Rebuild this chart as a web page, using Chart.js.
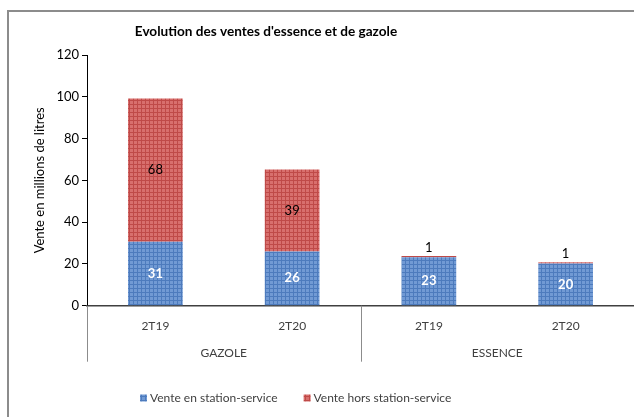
<!DOCTYPE html>
<html>
<head>
<meta charset="utf-8">
<script src="https://cdn.jsdelivr.net/npm/chart.js@4.4.0/dist/chart.umd.min.js"></script>
<style>
  body { margin: 0; background: #fff; }
  #cadre {
    position: absolute; left: 7px; top: 10px;
    width: 627px; height: 407px;
    border-top: 2px solid #8c8c8c; border-left: 2px solid #8c8c8c;
  }
  #cadre canvas { display: block; }
</style>
</head>
<body>
<div id="cadre"><canvas id="ventesGrafica" width="625" height="405"></canvas></div>
<script>
// Données (millions de litres)
const trimestres = ['2T19', '2T20', '2T19', '2T20']
const carburants = ['GAZOLE', 'ESSENCE']
const enStation = [30.6, 26.0, 23.2, 20.2]
const horsStation = [68.6, 39.2, 0.6, 0.6]
const etiquettesStation = ['31', '26', '23', '20']
const etiquettesHors = ['68', '39', '1', '1']
const ticksY = [0, 20, 40, 60, 80, 100, 120]
const titre = "Evolution des ventes d'essence et de gazole"

const police = 'Lato, "Open Sans", sans-serif'

// Motif quadrillé comme dans Excel
function motif(fond, trait){
    let c = document.createElement('canvas')
    c.width = 4; c.height = 4
    let g = c.getContext('2d')
    g.fillStyle = fond
    g.fillRect(0, 0, 4, 4)
    g.fillStyle = trait
    g.fillRect(0, 0, 4, 1)
    g.fillRect(0, 0, 1, 4)
    return g.createPattern(c, 'repeat')
}
const bleu = motif('#719ad4', '#4d7bbd')
const rouge = motif('#d86f6d', '#bf4a48')

// Titre, étiquettes de valeurs, axe à deux niveaux et légende
const pluginEtiquettes = {
    id: 'etiquettes',
    afterDatasetsDraw(chart){
        const ctx = chart.ctx
        ctx.save()
        ctx.textAlign = 'center'
        ctx.textBaseline = 'middle'
        const m0 = chart.getDatasetMeta(0)
        const m1 = chart.getDatasetMeta(1)
        m0.data.forEach((bar, i) => {
            ctx.font = 'bold 13px ' + police
            ctx.fillStyle = '#ffffff'
            ctx.fillText(etiquettesStation[i], bar.x, (bar.y + bar.base) / 2)
        })
        m1.data.forEach((bar, i) => {
            ctx.font = '13px ' + police
            ctx.fillStyle = '#000000'
            let h = bar.base - bar.y
            let y = h > 16 ? (bar.y + bar.base) / 2 : bar.y - 8
            ctx.fillText(etiquettesHors[i], bar.x, y)
        })
        ctx.restore()
    },
    afterDraw(chart){
        const ctx = chart.ctx
        const x = chart.scales.x
        const bas = chart.chartArea.bottom
        const pas = x.getPixelForValue(1) - x.getPixelForValue(0)
        ctx.save()

        // titre
        ctx.font = 'bold 13.6px ' + police
        ctx.fillStyle = '#000000'
        ctx.textAlign = 'center'
        ctx.textBaseline = 'middle'
        ctx.fillText(titre, 257, 20)

        // second niveau de l'axe des abscisses
        ctx.strokeStyle = '#8c8c8c'
        ctx.lineWidth = 1
        ctx.font = '12px ' + police
        ctx.fillStyle = '#404040'
        carburants.forEach((nom, k) => {
            let g = x.getPixelForValue(k * 2) - pas / 2
            let d = x.getPixelForValue(k * 2 + 1) + pas / 2
            ctx.beginPath()
            ctx.moveTo(Math.round(g) + 0.5, bas)
            ctx.lineTo(Math.round(g) + 0.5, bas + 56)
            ctx.stroke()
            ctx.fillText(nom, (g + d) / 2, bas + 47.5)
        })

        // légende
        ctx.font = '12px ' + police
        ctx.textAlign = 'left'
        let lx = 131
        const ly = 386
        chart.data.datasets.forEach(ds => {
            ctx.fillStyle = ds.backgroundColor
            ctx.fillRect(lx, ly - 3.5, 7, 7)
            ctx.fillStyle = '#404040'
            ctx.fillText(ds.label, lx + 10, ly)
            lx += 10 + ctx.measureText(ds.label).width + 26
        })
        ctx.restore()
    }
}

let ctx = document.getElementById('ventesGrafica')
const config = {
    type: 'bar',
    data: {
        labels: trimestres,
        datasets: [{
            label: 'Vente en station-service',
            data: enStation,
            backgroundColor: bleu,
            borderWidth: 0,
            barPercentage: 0.4,
            categoryPercentage: 1
        },
        {
            label: 'Vente hors station-service',
            data: horsStation,
            backgroundColor: rouge,
            borderWidth: 0,
            barPercentage: 0.4,
            categoryPercentage: 1
        }]
    },
    options: {
        responsive: false,
        animation: false,
        layout: { padding: { left: 0, right: 0, top: 43, bottom: 46.3 } },
        scales: {
            x: {
                stacked: true,
                grid: { display: false, drawTicks: false },
                border: { color: '#404040', width: 1.5 },
                ticks: { color: '#404040', font: { family: police, size: 12 }, padding: 13 },
                afterFit(axis){ axis.height = 65 }
            },
            y: {
                stacked: true,
                min: 0,
                max: 120,
                afterBuildTicks(axis){ axis.ticks = ticksY.map(v => ({ value: v })) },
                grid: { drawOnChartArea: false, tickLength: 5, color: '#000000' },
                border: { color: '#000000', width: 1 },
                ticks: { color: '#000000', font: { family: police, size: 13 }, padding: 3 },
                title: {
                    display: true,
                    text: 'Vente en millions de litres',
                    color: '#000000',
                    font: { family: police, size: 13 },
                    padding: { top: 23, bottom: 0 }
                },
                afterFit(axis){ axis.width = 78 }
            }
        },
        plugins: {
            title: { display: false },
            legend: { display: false },
            tooltip: { enabled: false }
        }
    },
    plugins: [pluginEtiquettes]
}

let myChart = new Chart(ctx, config)
</script>
</body>
</html>
